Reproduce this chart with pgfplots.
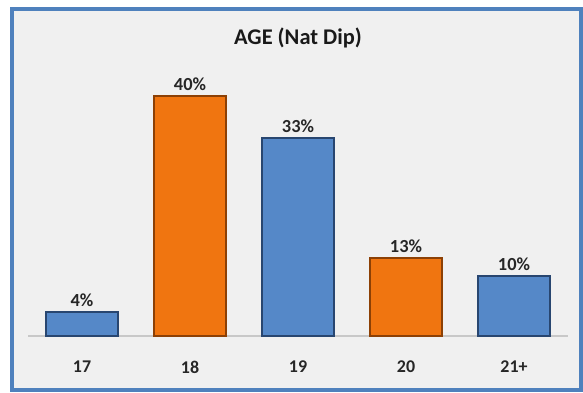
\documentclass[border=0pt]{standalone}
\usepackage{pgfplots}
\pgfplotsset{compat=1.18}
\usepackage{fontspec}
\setmainfont{Carlito}

\definecolor{frameblue}{RGB}{79,129,189}
\definecolor{panel}{RGB}{240,240,240}
\definecolor{barblue}{RGB}{85,136,200}
\definecolor{barblueedge}{RGB}{40,70,112}
\definecolor{barorange}{RGB}{240,117,16}
\definecolor{barorangeedge}{RGB}{140,64,5}
\definecolor{baseline}{RGB}{200,200,200}

\begin{document}
\begin{tikzpicture}[x=1bp,y=1bp]
  % page extent and the framed panel
  \path[use as bounding box] (-28,-56) rectangle (555,336);
  \fill[white] (-28,-56) rectangle (555,336);
  \filldraw[fill=panel, draw=frameblue, line width=4bp] (-16,-54) rectangle (553,327);

  \begin{axis}[
    at={(0,0)}, anchor=south west,
    scale only axis,
    width=540bp, height=270bp,
    xmin=-0.5, xmax=4.5,
    ymin=0, ymax=45,
    ybar, bar shift=0pt, bar width=0.667,
    axis x line=bottom,
    axis y line=none,
    x axis line style={-, draw=baseline, line width=1.2bp},
    xtick={0,1,2,3,4},
    xticklabels={17,18,19,20,21+},
    xtick style={draw=none},
    ytick=\empty,
    xticklabel style={font=\fontsize{18}{21}\selectfont\bfseries, text=black!85, yshift=-19bp},
    /pgf/number format/assume math mode=true,
    nodes near coords={\pgfmathprintnumber{\pgfplotspointmeta}\%},
    every node near coord/.append style={font=\fontsize{18.5}{22}\selectfont\bfseries, text=black!85, yshift=1bp},
    title={AGE (Nat Dip)},
    title style={font=\fontsize{22.5}{26}\selectfont\bfseries, text=black!90, at={(0.5,1)}, anchor=center, yshift=22bp},
    clip=false,
  ]
    % ages 17, 19 and 21+
    \addplot[fill=barblue, draw=barblueedge, line width=1.4bp]
      coordinates {(0,4) (2,33) (4,10)};
    % ages 18 and 20
    \addplot[fill=barorange, draw=barorangeedge, line width=1.4bp]
      coordinates {(1,40) (3,13)};
  \end{axis}
\end{tikzpicture}
\end{document}
